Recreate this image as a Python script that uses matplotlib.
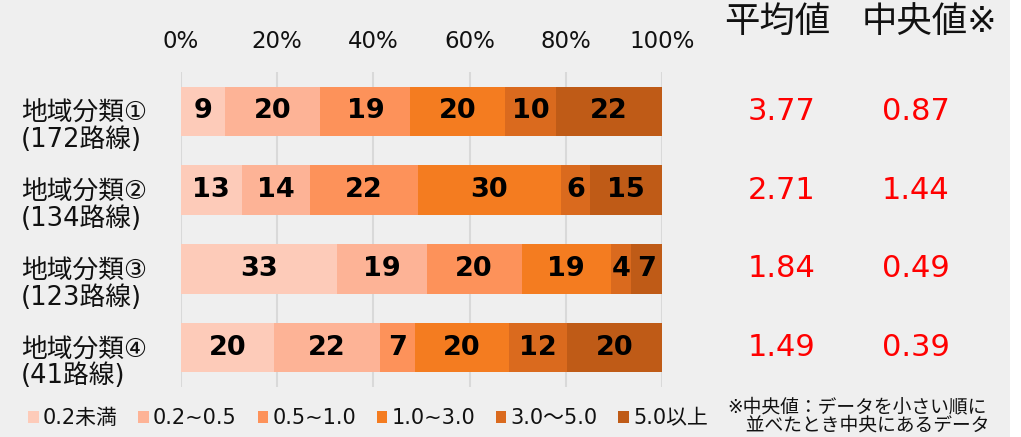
import numpy as np
import matplotlib.pyplot as plt
from matplotlib.patches import Rectangle
from matplotlib.transforms import blended_transform_factory

plt.rcParams['font.family'] = ['DejaVu Sans', 'Noto Sans CJK JP']

groups = ['地域分類①\n(172路線)', '地域分類②\n(134路線)', '地域分類③\n(123路線)', '地域分類④\n(41路線)']
classes = ['0.2未満', '0.2~0.5', '0.5~1.0', '1.0~3.0', '3.0～5.0', '5.0以上']
colors = ['#FDCBB9', '#FDB396', '#FD925A', '#F47C20', '#DA6A1E', '#BF5B17']

shares = [
    [9.2, 19.8, 18.7, 19.7, 10.6, 22.0],
    [12.6, 14.2, 22.4, 29.8, 6.0, 15.0],
    [32.4, 18.7, 19.7, 18.6, 4.2, 6.4],
    [19.4, 22.0, 7.3, 19.5, 12.1, 19.7],
]
labels = [
    [9, 20, 19, 20, 10, 22],
    [13, 14, 22, 30, 6, 15],
    [33, 19, 20, 19, 4, 7],
    [20, 22, 7, 20, 12, 20],
]
means = ['3.77', '2.71', '1.84', '1.49']
medians = ['0.87', '1.44', '0.49', '0.39']

bg = '#EFEFEF'
fig = plt.figure(figsize=(10.21, 4.37), dpi=100, facecolor='white')
fig.patches.append(Rectangle((0, 0), 1010 / 1021, 1, transform=fig.transFigure,
                             facecolor=bg, edgecolor='none', zorder=-10))

ax = fig.add_axes([181 / 1021, 1 - 387 / 437, 481 / 1021, 315 / 437])
ax.set_facecolor(bg)

data = np.array(shares)
y = np.arange(len(groups))
left = np.zeros(len(groups))
for j in range(len(classes)):
    ax.barh(y, data[:, j], left=left, height=0.63, color=colors[j],
            label=classes[j], zorder=3, edgecolor='none')
    for i in range(len(groups)):
        ax.text(left[i] + data[i, j] / 2, y[i], str(labels[i][j]),
                ha='center', va='center', fontsize=19.5, fontweight='bold',
                color='black', zorder=4)
    left += data[:, j]

ax.set_xlim(0, 100)
ax.set_ylim(3.5, -0.5)
ax.set_xticks(np.arange(0, 101, 20))
ax.set_xticklabels([f'{v}%' for v in range(0, 101, 20)], fontsize=16.5)
ax.xaxis.tick_top()
ax.tick_params(axis='x', length=0, pad=14, colors='#111111')
ax.set_yticks([])
for s in ax.spines.values():
    s.set_visible(False)
ax.grid(axis='x', color='#D9D9D9', linewidth=1.5, zorder=0)

tr = blended_transform_factory(ax.transAxes, ax.transData)
for i, g in enumerate(groups):
    ax.text(-0.333, y[i] + 0.2, g, transform=tr, ha='left', va='center',
            fontsize=18.5, linespacing=1.0, color='#111111')
    ax.text(1.249, y[i], means[i], transform=tr, ha='center', va='center',
            fontsize=22, color='#FF0000')
    ax.text(1.528, y[i], medians[i], transform=tr, ha='center', va='center',
            fontsize=22, color='#FF0000')

fig.text(777 / 1021, 1 - 22 / 437, '平均値', ha='center', va='center', fontsize=25.5, color='#111111')
fig.text(929 / 1021, 1 - 22 / 437, '中央値※', ha='center', va='center', fontsize=25.5, color='#111111')

fig.text(727 / 1021, 1 - 416 / 437, '※中央値：データを小さい順に\n　並べたとき中央にあるデータ',
         ha='left', va='center', fontsize=13.5, linespacing=0.95, color='#111111')

fig.legend(loc='center', bbox_to_anchor=(368 / 1021, 1 - 418 / 437), ncol=6,
           frameon=False, fontsize=15, handlelength=0.5, handleheight=0.5,
           handletextpad=0.2, columnspacing=1.0, labelcolor='#111111')

plt.savefig('out.png', dpi=100, facecolor=fig.get_facecolor())
